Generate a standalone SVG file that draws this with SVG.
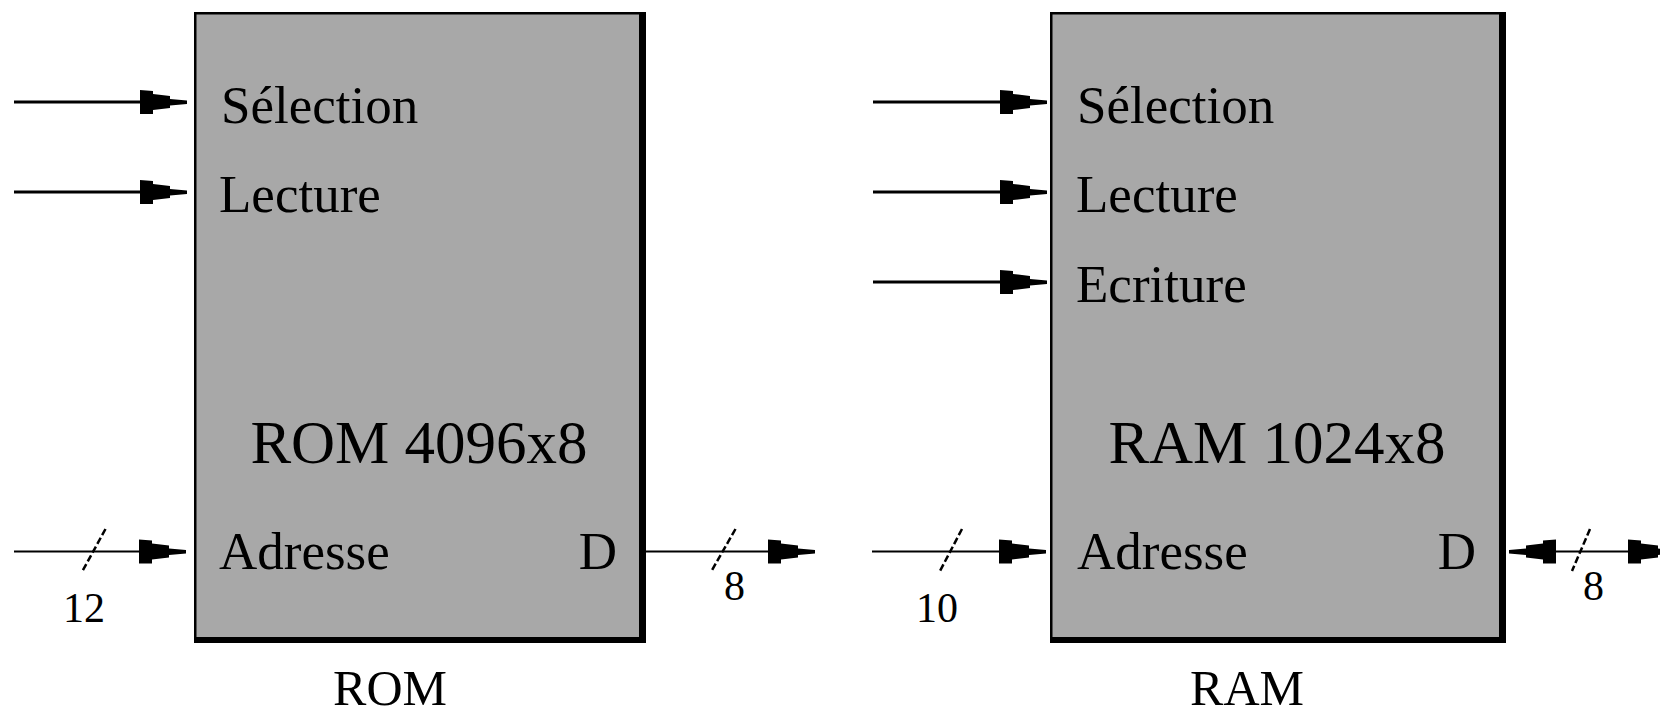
<svg xmlns="http://www.w3.org/2000/svg" xmlns:xlink="http://www.w3.org/1999/xlink" width="1660" height="717" viewBox="0 0 1660 717">
<style>
text{font-family:"Liberation Serif","Times New Roman",serif;fill:#000}
.lbl{font-size:53px}
.ttl{font-size:61px;text-anchor:middle}
.cap{font-size:50px;text-anchor:middle}
.num{font-size:42px}
.ctl{stroke:#000;stroke-width:3;fill:none}
.bus{stroke:#000;stroke-width:2;fill:none}
.sl{stroke:#000;stroke-width:2.5;stroke-dasharray:7 3;fill:none}
.frame{fill:#000}
.face{fill:#a8a8a8}
</style>
<defs>
<path id="ah" d="M-47,-12 L-34,-11 L-34,-8 L-17,-6 L-17,-3 L0,-1.5 L0,2 L-17,3.5 L-17,6 L-34,8 L-34,12 L-47,12 Z" fill="#000"/>
</defs>
<rect width="1660" height="717" fill="#fff"/>
<g id="rom">
<rect class="frame" x="194" y="12" width="452" height="631"/>
<rect class="face" x="196.5" y="14.5" width="442.5" height="622.5"/>
<text class="lbl" x="221" y="122.5">Sélection</text>
<text class="lbl" x="219" y="211.5">Lecture</text>
<text class="ttl" x="419" y="463">ROM 4096x8</text>
<text class="lbl" x="219" y="569">Adresse</text>
<text class="lbl" x="617" y="569" text-anchor="end">D</text>
<text class="cap" x="390" y="705">ROM</text>
</g>
<g id="ram">
<rect class="frame" x="1050" y="12" width="456" height="631"/>
<rect class="face" x="1052.5" y="14.5" width="446.5" height="622.5"/>
<text class="lbl" x="1077" y="122.5">Sélection</text>
<text class="lbl" x="1076" y="211.5">Lecture</text>
<text class="lbl" x="1076" y="301.5">Ecriture</text>
<text class="ttl" x="1277" y="463">RAM 1024x8</text>
<text class="lbl" x="1077" y="569">Adresse</text>
<text class="lbl" x="1476" y="569" text-anchor="end">D</text>
<text class="cap" x="1247" y="705">RAM</text>
</g>
<g id="connectors">
<line class="ctl" x1="14" y1="102" x2="145" y2="102"/>
<use xlink:href="#ah" href="#ah" transform="translate(187,102)"/>
<line class="ctl" x1="14" y1="192" x2="145" y2="192"/>
<use xlink:href="#ah" href="#ah" transform="translate(187,192)"/>
<line class="bus" x1="14" y1="551.5" x2="145" y2="551.5"/>
<use xlink:href="#ah" href="#ah" transform="translate(186,551.5)"/>
<line class="sl" x1="105.5" y1="529" x2="82.5" y2="571"/>
<text class="num" x="63" y="622">12</text>
<line class="bus" x1="646" y1="551.5" x2="775" y2="551.5"/>
<use xlink:href="#ah" href="#ah" transform="translate(815,551.5)"/>
<line class="sl" x1="735.5" y1="529" x2="711.5" y2="571"/>
<text class="num" x="724" y="600">8</text>
<line class="ctl" x1="873" y1="102" x2="1005" y2="102"/>
<use xlink:href="#ah" href="#ah" transform="translate(1047,102)"/>
<line class="ctl" x1="873" y1="192" x2="1005" y2="192"/>
<use xlink:href="#ah" href="#ah" transform="translate(1047,192)"/>
<line class="ctl" x1="873" y1="282" x2="1005" y2="282"/>
<use xlink:href="#ah" href="#ah" transform="translate(1047,282)"/>
<line class="bus" x1="872" y1="551.5" x2="1005" y2="551.5"/>
<use xlink:href="#ah" href="#ah" transform="translate(1046,551.5)"/>
<line class="sl" x1="962" y1="529" x2="940" y2="571"/>
<text class="num" x="916" y="622">10</text>
<line class="bus" x1="1550" y1="551.5" x2="1635" y2="551.5"/>
<use xlink:href="#ah" href="#ah" transform="translate(1509,551.5) scale(-1,1)"/>
<use xlink:href="#ah" href="#ah" transform="translate(1675,551.5)"/>
<line class="sl" x1="1590" y1="529" x2="1572" y2="571"/>
<text class="num" x="1583" y="600">8</text>
</g>
</svg>
